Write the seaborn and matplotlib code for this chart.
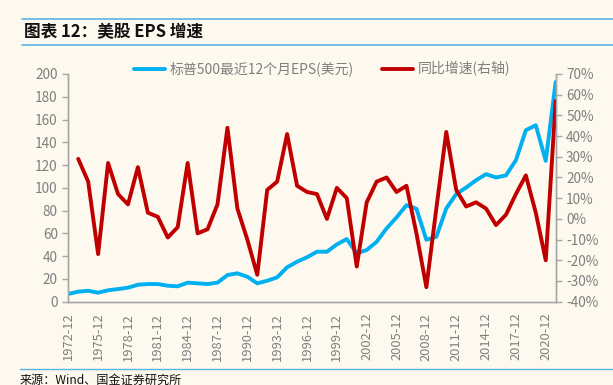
import pandas as pd
import matplotlib
matplotlib.use("Agg")
import matplotlib.pyplot as plt
import seaborn as sns
from matplotlib.lines import Line2D

# data
years = list(range(1972, 2022))
eps = [6.8, 8.8, 9.6, 7.9, 10.0, 11.1, 12.3, 14.9, 15.5, 15.5,
       14.0, 13.5, 16.7, 16.1, 15.5, 16.7, 23.4, 24.9, 21.9, 16.1,
       18.4, 21.4, 30.2, 35.1, 39.0, 43.9, 43.9, 50.3, 55.0, 42.5,
       45.4, 52.6, 64.4, 74.0, 84.8, 81.6, 54.4, 57.0, 81.9, 94.5,
       100.3, 106.7, 112.0, 109.1, 110.9, 124.3, 150.6, 155.0, 123.7, 193.0]
growth_years = list(range(1973, 2022))
growth = [29, 18, -17, 27, 12, 7, 25, 3, 1, -9,
          -4, 27, -7, -5, 7, 44, 5, -10, -27, 14,
          18, 41, 16, 13, 12, 0, 15, 10, -23, 8,
          18, 20, 13, 16, -7, -33, 5, 42, 14, 6,
          8, 5, -3, 2, 12, 21, 3, -20, 57]
tick_years = list(range(1972, 2022, 3))

blue = "#00B0F0"
red = "#C00000"
grey = "#7F7F7F"
bg = "#FDF9EF"

sns.set_style("white")
plt.rcParams["font.family"] = ["Noto Sans CJK SC", "DejaVu Sans"]

df_eps = pd.DataFrame({"x": [y - 1972 for y in years], "eps": eps})
df_g = pd.DataFrame({"x": [y - 1972 for y in growth_years], "g": growth})

fig = plt.figure(figsize=(6.13, 3.85), dpi=100, facecolor=bg)
ax = fig.add_axes([0.1114, 0.2164, 0.7951, 0.5914])
ax.set_facecolor(bg)
ax2 = ax.twinx()

sns.lineplot(data=df_eps, x="x", y="eps", ax=ax, color=blue, linewidth=2.8)
sns.lineplot(data=df_g, x="x", y="g", ax=ax2, color=red, linewidth=2.8)

ax.set_xlim(0, 49)
ax.set_ylim(0, 200)
ax2.set_ylim(-40, 70)
ax.set_yticks(range(0, 201, 20))
ax2.set_yticks(range(-40, 71, 10))
ax2.set_yticklabels([f"{v}%" for v in range(-40, 71, 10)])
ax.set_xticks([y - 1972 for y in tick_years])
ax.set_xticklabels([f"{y}-12" for y in tick_years], rotation=90)
ax.set_xlabel("")
ax.set_ylabel("")
ax2.set_ylabel("")

for a in (ax, ax2):
    for s in a.spines.values():
        s.set_color("#A6A6A6")
        s.set_linewidth(1.0)
    a.spines["top"].set_visible(False)
    a.tick_params(colors="#A6A6A6", labelcolor=grey, labelsize=9.8,
                  direction="out", length=4, width=1)
ax.tick_params(axis="x", labelsize=9.3, pad=4)

handles = [Line2D([], [], color=blue, linewidth=2.8),
           Line2D([], [], color=red, linewidth=2.8)]
fig.legend(handles, ["标普500最近12个月EPS(美元)", "同比增速(右轴)"],
           loc="center", bbox_to_anchor=(0.525, 0.821), ncol=2, frameon=False,
           fontsize=10, labelcolor=grey, handlelength=2.3, handletextpad=0.3,
           columnspacing=2.0)

# header and footer
fig.add_artist(Line2D([22 / 613, 1], [1 - 19 / 385] * 2, color="#5BB4E5", lw=1.2))
fig.add_artist(Line2D([22 / 613, 1], [1 - 45 / 385] * 2, color="#5BB4E5", lw=1.2))
fig.text(24 / 613, 1 - 32 / 385, "图表 12：美股 EPS 增速", fontsize=12,
         fontweight="bold", style="italic", va="center", ha="left", color="#111111")
fig.add_artist(Line2D([20 / 613, 1], [1 - 369 / 385] * 2, color="#5BB4E5", lw=1.0))
fig.text(20 / 613, 1 - 380 / 385, "来源：Wind、国金证券研究所", fontsize=8.7,
         va="center", ha="left", color="#111111")

fig.savefig("out.png", dpi=100, facecolor=bg)
